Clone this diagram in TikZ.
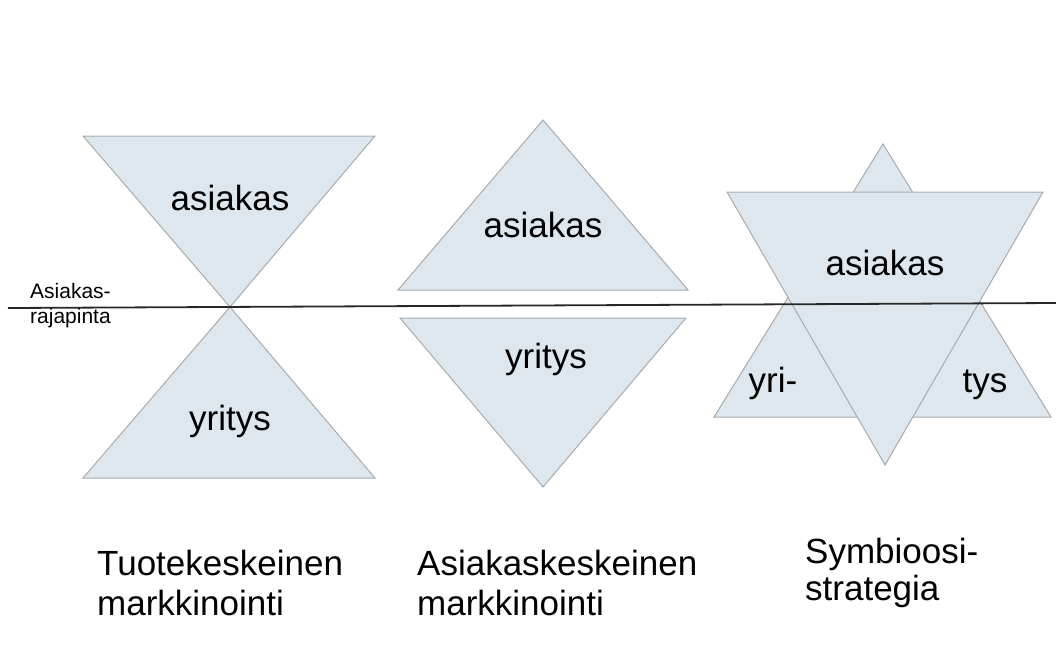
\documentclass[tikz,border=0pt]{standalone}
\usepackage{fontspec}
\setmainfont{Liberation Sans}
\usepackage{tikz}
\usetikzlibrary{positioning}

\definecolor{trifill}{RGB}{221,231,237}
\definecolor{triedge}{RGB}{165,172,176}
\definecolor{rajaline}{RGB}{40,40,40}

\tikzset{
  tri/.style={fill=trifill, draw=triedge, line width=1pt, line join=miter},
  big/.style={font=\fontsize{35}{40}\selectfont, inner sep=0pt, anchor=base},
  otsikko/.style={font=\fontsize{35}{40}\selectfont, inner sep=0pt, anchor=base west},
  tiny/.style={font=\fontsize{21}{24}\selectfont, inner sep=0pt, anchor=base west}
}

\begin{document}
\begin{tikzpicture}[x=1pt, y=-1pt]
	\useasboundingbox (0,0) rectangle (1056,648);

	% tuotekeskeinen
	\coordinate (t1) at (230,307);
	\filldraw[tri] (83,136) -- (375,136) -- (t1) -- cycle;
	\filldraw[tri] (83,478) -- (375,478) -- (t1) -- cycle;
	\node[big] (ta) at (230,210) {asiakas};
	\node[big] (ty) at (230,430) {yritys};

	% asiakaskeskeinen
	\coordinate (a1) at (543,120);
	\coordinate (a2) at (543,487);
	\filldraw[tri] (398,290) -- (688,290) -- (a1) -- cycle;
	\filldraw[tri] (400,318) -- (686,318) -- (a2) -- cycle;
	\node[big] (aa) at (543,237) {asiakas};
	\node[big] (ay) at (546,368) {yritys};

	% symbioosi
	\coordinate (s1) at (883,144);
	\coordinate (s2) at (885,465);
	\filldraw[tri] (714,417) -- (1051,417) -- (s1) -- cycle;
	\filldraw[tri] (727,192) -- (1043,192) -- (s2) -- cycle;
	\node[big] (sa) at (885,275) {asiakas};
	\node[big] (sy) at (773,392) {yri-};
	\node[big] (st) at (985,392) {tys};

	% asiakasrajapinta
	\coordinate (r1) at (8,308);
	\coordinate (r2) at (1056,303);
	\draw[rajaline, line width=1.8pt] (r1) -- (r2);
	\node[tiny] (r) at (30,298) {Asiakas-};
	\node[tiny, below=25pt of r.base west, anchor=base west] (rr) {rajapinta};

	% otsikot
	\node[otsikko] (c1) at (97,575) {Tuotekeskeinen};
	\node[otsikko] (c1b) at (97,615) {markkinointi};
	\node[otsikko] (c2) at (417,575) {Asiakaskeskeinen};
	\node[otsikko] (c2b) at (417,615) {markkinointi};
	\node[otsikko] (c3) at (805,563) {Symbioosi-};
	\node[otsikko] (c3b) at (805,600) {strategia};
\end{tikzpicture}
\end{document}
